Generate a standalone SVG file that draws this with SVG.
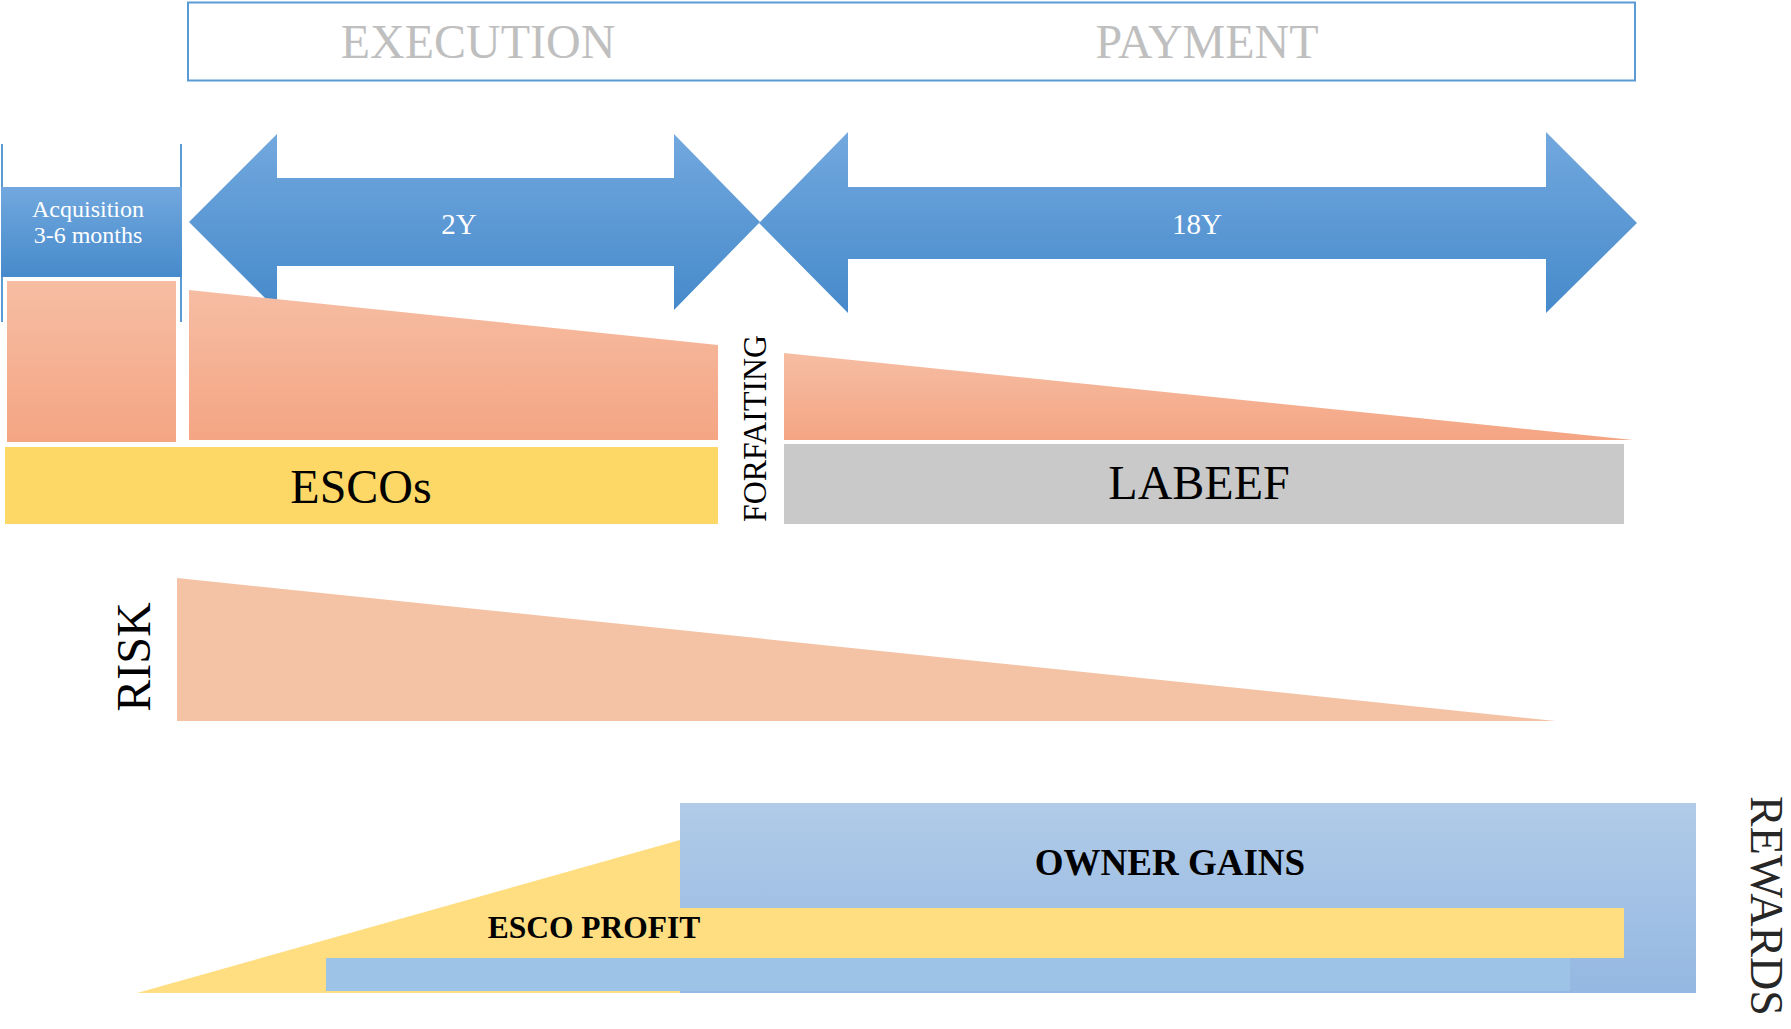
<svg xmlns="http://www.w3.org/2000/svg" width="1791" height="1029" viewBox="0 0 1791 1029">
<defs>
<linearGradient id="gBlue" x1="0" y1="0" x2="0" y2="1">
<stop offset="0" stop-color="#72A8DE"/>
<stop offset="1" stop-color="#468ACB"/>
</linearGradient>
<linearGradient id="gSalmon" x1="0" y1="0" x2="0" y2="1">
<stop offset="0" stop-color="#F6BDA3"/>
<stop offset="1" stop-color="#F4A583"/>
</linearGradient>
<linearGradient id="gOwner" x1="0" y1="0" x2="0" y2="1">
<stop offset="0" stop-color="#B1CBE8"/>
<stop offset="1" stop-color="#94B8E2"/>
</linearGradient>
<style>
.serif{font-family:"Liberation Serif","Times New Roman",serif;}
.phase{font-size:48px;fill:#BFBFBF;text-anchor:middle;}
.white{fill:#FFFFFF;text-anchor:middle;}
.big{font-size:48px;fill:#000;text-anchor:middle;}
.bold{font-weight:bold;fill:#000;text-anchor:middle;}
</style>
</defs>
<rect width="1791" height="1029" fill="#FFFFFF"/>

<g id="phases">
<rect x="188" y="2.5" width="1447" height="78" fill="none" stroke="#5B9BD5" stroke-width="2"/>
<text class="serif phase" x="478" y="58">EXECUTION</text>
<text class="serif phase" x="1207" y="58">PAYMENT</text>
</g>

<g id="acquisition">
<line x1="2" y1="144" x2="2" y2="322" stroke="#5B9BD5" stroke-width="2"/>
<line x1="181" y1="144" x2="181" y2="322" stroke="#5B9BD5" stroke-width="2"/>
<rect x="1" y="187" width="181" height="90" fill="url(#gBlue)"/>
<text class="serif white" x="88" y="217" font-size="24">Acquisition</text>
<text class="serif white" x="88" y="243" font-size="24">3-6 months</text>
</g>

<g id="arrow-2y">
<polygon points="189,222 277,134 277,178 674,178 674,134 760,222 674,310 674,266 277,266 277,310" fill="url(#gBlue)"/>
<text class="serif white" x="459" y="234" font-size="29">2Y</text>
</g>

<g id="arrow-18y">
<polygon points="759,223 848,132 848,187 1546,187 1546,132 1637,223 1546,313 1546,259 848,259 848,313" fill="url(#gBlue)"/>
<text class="serif white" x="1197" y="234" font-size="29">18Y</text>
</g>

<g id="risk-shapes">
<rect x="7" y="281" width="169" height="161" fill="url(#gSalmon)"/>
<polygon points="189,290 718,345 718,440 189,440" fill="url(#gSalmon)"/>
<polygon points="784,353 1633,440 784,440" fill="url(#gSalmon)"/>
</g>

<g id="escos">
<rect x="5" y="447" width="713" height="77" fill="#FDD866"/>
<text class="serif big" x="361" y="503">ESCOs</text>
</g>

<g id="forfaiting">
<text class="serif" transform="translate(766,428.5) rotate(-90)" font-size="34" text-anchor="middle" textLength="187" lengthAdjust="spacingAndGlyphs" fill="#000">FORFAITING</text>
</g>

<g id="labeef">
<rect x="784" y="444" width="840" height="80" fill="#C9C9C9"/>
<text class="serif big" x="1199" y="499">LABEEF</text>
</g>

<g id="risk">
<polygon points="177,578 1556,721 177,721" fill="#F4C3A5"/>
<text class="serif big" transform="translate(150,657) rotate(-90)">RISK</text>
</g>

<g id="rewards">
<rect x="680" y="803" width="1016" height="190" fill="url(#gOwner)"/>
<polygon points="137,993 680,840 680,908 1624,908 1624,958 680,958 680,993" fill="#FEDE80"/>
<rect x="326" y="958" width="1244" height="33" fill="#9DC3E6"/>
<text class="serif bold" x="1170" y="875" font-size="37">OWNER GAINS</text>
<text class="serif bold" x="594" y="938" font-size="31.5">ESCO PROFIT</text>
<text class="serif" transform="translate(1751,906) rotate(90)" font-size="46" text-anchor="middle" fill="#262626">REWARDS</text>
</g>
</svg>
